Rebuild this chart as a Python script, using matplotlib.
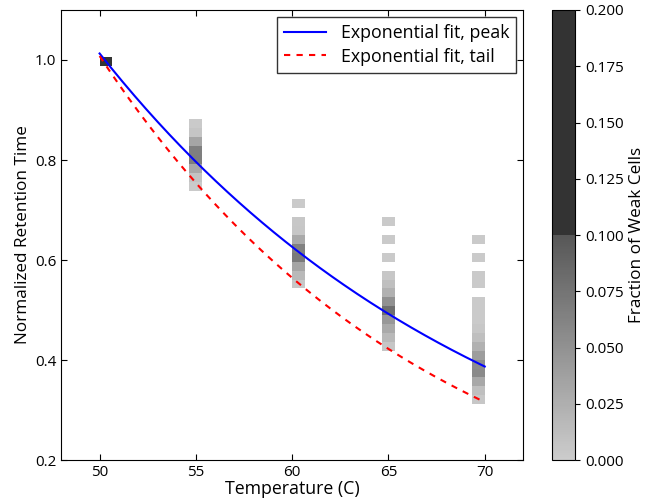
import numpy as np
import matplotlib
matplotlib.use("Agg")
import matplotlib.pyplot as plt
from matplotlib.colors import LinearSegmentedColormap

plt.rcParams['font.family'] = ['Open Sans', 'DejaVu Sans']
plt.rcParams['font.size'] = 11

# temperatures with measured retention-time histograms
temps = [50, 55, 60, 65, 70]
# index of first (top) retention bin for each temperature
first_bin = [0, 7, 16, 18, 20]
# fraction of weak cells per bin, top to bottom (0 = empty bin)
frac_50 = [0.2]
frac_55 = [0.002, 0.007, 0.033, 0.066, 0.067, 0.031, 0.008, 0.002]
frac_60 = [0.002, 0.0, 0.004, 0.006, 0.030, 0.064, 0.070, 0.033, 0.017, 0.004]
frac_65 = [0.002, 0.0, 0.002, 0.0, 0.002, 0.0, 0.004, 0.011, 0.023, 0.050,
           0.079, 0.045, 0.029, 0.017, 0.006]
frac_70 = [0.002, 0.0, 0.002, 0.0, 0.002, 0.002, 0.0, 0.002, 0.002, 0.002,
           0.004, 0.011, 0.023, 0.040, 0.055, 0.057, 0.031, 0.011, 0.004]
fracs = [frac_50, frac_55, frac_60, frac_65, frac_70]

# histogram grid
t_edges = np.linspace(50, 70, 31)
ret_top = 1.006
ret_bin = 0.0178
n_ret = 40
r_edges = ret_top - ret_bin * np.arange(n_ret + 1)

# exponential fits  y = a * exp(-k (T - 50))
peak_a, peak_k = 1.013, 0.0481
tail_a, tail_k = 1.008, 0.0580

H = np.zeros((n_ret, 30))
for t, b0, fr in zip(temps, first_bin, fracs):
    col = min(int((t - 50) / (20 / 30)), 29)
    for i, v in enumerate(fr):
        H[b0 + i, col] = v
H = np.ma.masked_equal(H, 0)

cmap = LinearSegmentedColormap.from_list(
    'weak', [(0.0, (0.8, 0.8, 0.8)), (0.5, (0.34, 0.34, 0.34)),
             (0.5, (0.2, 0.2, 0.2)), (1.0, (0.2, 0.2, 0.2))])

fig = plt.figure(figsize=(6.5, 4.99), dpi=100)
ax = fig.add_axes([0.094, 0.078, 0.711, 0.902])
cax = fig.add_axes([0.849, 0.078, 0.036, 0.902])

mesh = ax.pcolormesh(t_edges, r_edges, H, cmap=cmap, vmin=0, vmax=0.2)

T = np.linspace(50, 70, 200)
ax.plot(T, peak_a * np.exp(-peak_k * (T - 50)), color='blue', lw=1.5,
        label='Exponential fit, peak')
ax.plot(T, tail_a * np.exp(-tail_k * (T - 50)), color='red', lw=1.5,
        ls=(0, (3, 3)), label='Exponential fit, tail')

ax.set_xlim(48, 72)
ax.set_ylim(0.2, 1.1)
ax.set_xticks([50, 55, 60, 65, 70])
ax.set_yticks([0.2, 0.4, 0.6, 0.8, 1.0])
ax.tick_params(direction='in', top=True, right=True, length=4)
ax.set_xlabel('Temperature (C)', fontsize=12.8, labelpad=0)
ax.set_ylabel('Normalized Retention Time', fontsize=12.3, labelpad=3)
ax.legend(loc='upper right', fancybox=False, edgecolor='black',
          handlelength=2.4, borderaxespad=0.4, fontsize=12.8,
          labelspacing=0.3)

cb = fig.colorbar(mesh, cax=cax)
cb.set_ticks([0, 0.025, 0.05, 0.075, 0.1, 0.125, 0.15, 0.175, 0.2])
cb.ax.yaxis.set_major_formatter(plt.FormatStrFormatter('%.3f'))
cb.set_label('Fraction of Weak Cells', fontsize=12.3, labelpad=4)
cb.outline.set_linewidth(0.8)

fig.savefig('out.png', dpi=100)
